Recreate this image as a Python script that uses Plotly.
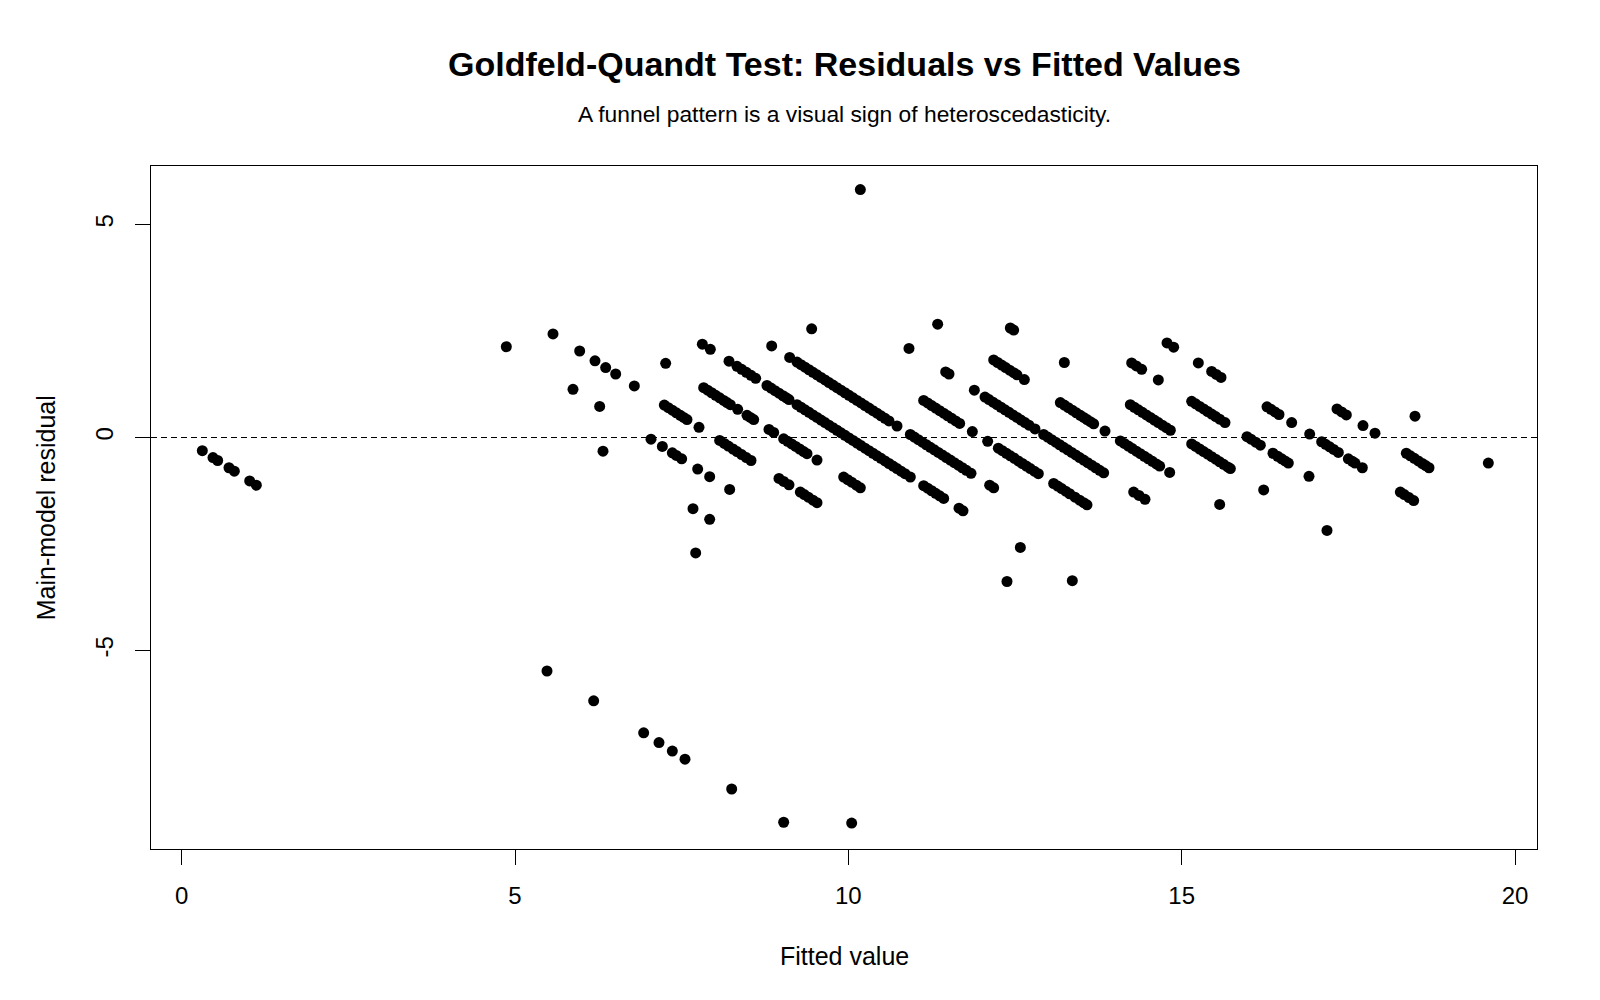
import plotly.graph_objects as go

# ---- data (fitted value, main-model residual), grouped by diagonal band ----
fit_a = [0.31, 0.47, 0.54, 0.71, 0.79, 1.02, 1.12, 5.48, 6.18, 6.93, 7.16, 7.36, 7.55, 8.25, 9.03]
res_a = [-0.31, -0.47, -0.54, -0.71, -0.79, -1.02, -1.12, -5.48, -6.18, -6.93, -7.16, -7.36, -7.55, -8.25, -9.03]

fit_b = [10.05, 7.71, 6.32, 7.67, 7.92]
res_b = [-9.05, -2.71, -0.32, -1.67, -1.92]

fit_c = [4.87, 5.87, 6.27, 7.04, 7.21, 7.36, 7.42, 7.50, 7.74, 7.92, 8.22]
res_c = [2.13, 1.13, 0.73, -0.04, -0.21, -0.36, -0.42, -0.50, -0.74, -0.92, -1.22]

fit_d = [5.57, 5.97, 6.20, 6.36, 6.51, 6.79, 7.24, 7.30, 7.36, 7.42, 7.48, 7.53, 7.58, 7.76,
         8.07, 8.14, 8.20, 8.27, 8.33, 8.40, 8.47, 8.54, 8.96, 9.03, 9.11, 9.28, 9.34, 9.40, 9.47, 9.53]
res_d = [2.43, 2.03, 1.80, 1.64, 1.49, 1.21, 0.76, 0.70, 0.64, 0.58, 0.52, 0.47, 0.42, 0.24,
         -0.07, -0.14, -0.20, -0.27, -0.33, -0.40, -0.47, -0.54, -0.96, -1.03, -1.11, -1.28, -1.34, -1.40, -1.47, -1.53]

fit_e = [7.26, 7.83, 7.89, 7.95, 8.01, 8.07, 8.13, 8.18, 8.23, 8.34, 8.48, 8.53, 8.58, 8.81, 8.88,
         9.03, 9.09, 9.15, 9.21, 9.27, 9.33, 9.38, 9.53, 9.93, 9.99, 10.05, 10.12, 10.18, 12.38]
res_e = [1.74, 1.17, 1.11, 1.05, 0.99, 0.93, 0.87, 0.82, 0.77, 0.66, 0.52, 0.47, 0.42, 0.19, 0.12,
         -0.03, -0.09, -0.15, -0.21, -0.27, -0.33, -0.38, -0.53, -0.93, -0.99, -1.05, -1.12, -1.18, -3.38]

fit_f = [7.81, 7.93, 8.21, 8.33, 8.40, 8.47, 8.54, 8.61, 8.78, 8.84, 8.90, 8.96, 9.02, 9.07, 9.11,
         9.23, 9.29, 9.35, 9.41, 9.47, 9.53, 9.59, 9.65, 9.71, 9.77, 9.83, 9.89, 9.95, 10.01, 10.07,
         10.13, 10.19, 10.25, 10.31, 10.37, 10.43, 10.49, 10.55, 10.61, 10.67, 10.73, 10.79, 10.85, 10.93,
         11.13, 11.19, 11.25, 11.31, 11.37, 11.43, 11.66, 11.72, 12.58, 13.36]
res_f = [2.19, 2.07, 1.79, 1.67, 1.60, 1.53, 1.46, 1.39, 1.22, 1.16, 1.10, 1.04, 0.98, 0.93, 0.89,
         0.77, 0.71, 0.65, 0.59, 0.53, 0.47, 0.41, 0.35, 0.29, 0.23, 0.17, 0.11, 0.05, -0.01, -0.07,
         -0.13, -0.19, -0.25, -0.31, -0.37, -0.43, -0.49, -0.55, -0.61, -0.67, -0.73, -0.79, -0.85, -0.93,
         -1.13, -1.19, -1.25, -1.31, -1.37, -1.43, -1.66, -1.72, -2.58, -3.36]

fit_g = [8.85, 9.12, 9.23, 9.29, 9.35, 9.41, 9.47, 9.53, 9.59, 9.65, 9.71, 9.77, 9.83, 9.89, 9.95,
         10.01, 10.07, 10.13, 10.19, 10.25, 10.31, 10.37, 10.43, 10.49, 10.55, 10.61, 10.73,
         10.93, 10.99, 11.05, 11.11, 11.17, 11.23, 11.29, 11.35, 11.41, 11.47, 11.53, 11.59, 11.65,
         11.71, 11.77, 11.84, 12.12, 12.18]
res_g = [2.15, 1.88, 1.77, 1.71, 1.65, 1.59, 1.53, 1.47, 1.41, 1.35, 1.29, 1.23, 1.17, 1.11, 1.05,
         0.99, 0.93, 0.87, 0.81, 0.75, 0.69, 0.63, 0.57, 0.51, 0.45, 0.39, 0.27,
         0.07, 0.01, -0.05, -0.11, -0.17, -0.23, -0.29, -0.35, -0.41, -0.47, -0.53, -0.59, -0.65,
         -0.71, -0.77, -0.84, -1.12, -1.18]

fit_h = [9.45, 11.13, 11.19, 11.25, 11.31, 11.37, 11.43, 11.49, 11.55, 11.61, 11.67, 11.86, 12.09,
         12.25, 12.31, 12.37, 12.43, 12.49, 12.55, 12.61, 12.67, 12.73, 12.79, 12.85,
         13.08, 13.14, 13.20, 13.26, 13.32, 13.40, 13.47, 13.53, 13.58]
res_h = [2.55, 0.87, 0.81, 0.75, 0.69, 0.63, 0.57, 0.51, 0.45, 0.39, 0.33, 0.14, -0.09,
         -0.25, -0.31, -0.37, -0.43, -0.49, -0.55, -0.61, -0.67, -0.73, -0.79, -0.85,
         -1.08, -1.14, -1.20, -1.26, -1.32, -1.40, -1.47, -1.53, -1.58]

fit_i = [10.91, 11.46, 11.51, 11.89, 12.05, 12.11, 12.17, 12.23, 12.29, 12.35, 12.41, 12.47, 12.53,
         12.59, 12.65, 12.71, 12.80, 12.93, 12.99, 13.05, 13.11, 13.17, 13.23, 13.29, 13.35, 13.41,
         13.47, 13.53, 13.59, 13.65, 13.71, 13.77, 13.83, 14.28, 14.36, 14.45]
res_i = [2.09, 1.54, 1.49, 1.11, 0.95, 0.89, 0.83, 0.77, 0.71, 0.65, 0.59, 0.53, 0.47,
         0.41, 0.35, 0.29, 0.20, 0.07, 0.01, -0.05, -0.11, -0.17, -0.23, -0.29, -0.35, -0.41,
         -0.47, -0.53, -0.59, -0.65, -0.71, -0.77, -0.83, -1.28, -1.36, -1.45]

fit_j = [11.34, 12.18, 12.24, 12.30, 12.36, 12.42, 12.48, 12.53, 12.64, 13.18, 13.24, 13.30, 13.36,
         13.42, 13.48, 13.53, 13.58, 13.63, 13.68, 13.85, 14.08, 14.14, 14.20, 14.26, 14.32, 14.38,
         14.44, 14.50, 14.56, 14.62, 14.67, 14.82, 15.57]
res_j = [2.66, 1.82, 1.76, 1.70, 1.64, 1.58, 1.52, 1.47, 1.36, 0.82, 0.76, 0.70, 0.64,
         0.58, 0.52, 0.47, 0.42, 0.37, 0.32, 0.15, -0.08, -0.14, -0.20, -0.26, -0.32, -0.38,
         -0.44, -0.50, -0.56, -0.62, -0.67, -0.82, -1.57]

fit_k = [12.43, 12.48, 13.24, 14.23, 14.29, 14.35, 14.41, 14.47, 14.53, 14.59, 14.65, 14.71, 14.77,
         14.83, 15.15, 15.21, 15.27, 15.33, 15.39, 15.45, 15.51, 15.57, 15.63, 15.69, 15.73, 16.23, 17.18]
res_k = [2.57, 2.52, 1.76, 0.77, 0.71, 0.65, 0.59, 0.53, 0.47, 0.41, 0.35, 0.29, 0.23,
         0.17, -0.15, -0.21, -0.27, -0.33, -0.39, -0.45, -0.51, -0.57, -0.63, -0.69, -0.73, -1.23, -2.18]

fit_l = [10.18, 14.25, 14.32, 14.40, 14.65, 15.15, 15.21, 15.27, 15.33, 15.39, 15.45, 15.51, 15.57,
         15.65, 15.98, 16.04, 16.11, 16.18, 16.37, 16.44, 16.50, 16.55, 16.60, 16.91]
res_l = [5.82, 1.75, 1.68, 1.60, 1.35, 0.85, 0.79, 0.73, 0.67, 0.61, 0.55, 0.49, 0.43,
         0.35, 0.02, -0.04, -0.11, -0.18, -0.37, -0.44, -0.50, -0.55, -0.60, -0.91]

fit_m = [14.78, 14.88, 15.25, 15.45, 15.52, 15.59, 16.28, 16.34, 16.40, 16.46, 16.65, 16.92, 17.10,
         17.16, 17.22, 17.28, 17.35, 17.50, 17.56, 17.60, 17.71, 18.28, 18.34, 18.41, 18.48]
res_m = [2.22, 2.12, 1.75, 1.55, 1.48, 1.41, 0.72, 0.66, 0.60, 0.54, 0.35, 0.08, -0.10,
         -0.16, -0.22, -0.28, -0.35, -0.50, -0.56, -0.60, -0.71, -1.28, -1.34, -1.41, -1.48]

fit_n = [17.33, 17.40, 17.47, 17.72, 17.90, 18.37, 18.43, 18.49, 18.55, 18.61, 18.66, 18.71, 18.50, 19.60]
res_n = [0.67, 0.60, 0.53, 0.28, 0.10, -0.37, -0.43, -0.49, -0.55, -0.61, -0.66, -0.71, 0.50, -0.60]

x_ticks = [0, 5, 10, 15, 20]
y_ticks = [-5, 0, 5]

title_text = "Goldfeld-Quandt Test: Residuals vs Fitted Values"
subtitle_text = "A funnel pattern is a visual sign of heteroscedasticity."
x_label = "Fitted value"
y_label = "Main-model residual"

groups = [(fit_a, res_a), (fit_b, res_b), (fit_c, res_c), (fit_d, res_d), (fit_e, res_e),
          (fit_f, res_f), (fit_g, res_g), (fit_h, res_h), (fit_i, res_i), (fit_j, res_j),
          (fit_k, res_k), (fit_l, res_l), (fit_m, res_m), (fit_n, res_n)]
fitted, residual = [], []
for fx, ry in groups:
    n = min(len(fx), len(ry))
    fitted += fx[:n]
    residual += ry[:n]

FONT = "Liberation Sans, Arial, sans-serif"

fig = go.Figure()
fig.add_trace(go.Scatter(
    x=fitted, y=residual, mode="markers",
    marker=dict(color="black", size=11, line=dict(width=0)),
    hoverinfo="x+y", showlegend=False,
))

fig.add_shape(type="line", xref="paper", yref="y", x0=0, x1=1, y0=0, y1=0,
              line=dict(color="black", width=1, dash="6px,4px"), layer="below")

axis_common = dict(
    showline=True, mirror=True, linecolor="black", linewidth=1,
    ticks="outside", ticklen=15, tickwidth=1, tickcolor="black",
    showgrid=False, zeroline=False,
    tickfont=dict(family=FONT, size=24, color="black"),
)

fig.update_layout(
    width=1600, height=1000,
    margin=dict(l=151, r=63, t=166, b=151),
    paper_bgcolor="white", plot_bgcolor="white",
    xaxis=dict(range=[-0.46, 20.33], tickmode="array", tickvals=x_ticks,
               ticktext=[str(v) for v in x_ticks], ticklabelstandoff=10, **axis_common),
    yaxis=dict(range=[-9.658, 6.372], tickmode="array", tickvals=y_ticks,
               ticktext=[str(v) for v in y_ticks], tickangle=-90, ticklabelstandoff=12,
               **axis_common),
    annotations=[
        dict(text="<b>" + title_text + "</b>", xref="paper", yref="paper", x=0.5, y=1.150,
             xanchor="center", yanchor="middle", showarrow=False,
             font=dict(family=FONT, size=34, color="black")),
        dict(text=subtitle_text, xref="paper", yref="paper", x=0.5, y=1.0755,
             xanchor="center", yanchor="middle", showarrow=False,
             font=dict(family=FONT, size=22.8, color="black")),
        dict(text=x_label, xref="paper", yref="paper", x=0.5, y=-0.156,
             xanchor="center", yanchor="middle", showarrow=False,
             font=dict(family=FONT, size=25, color="black")),
        dict(text=y_label, xref="paper", yref="paper", x=-0.0759, y=0.5, textangle=-90,
             xanchor="center", yanchor="middle", showarrow=False,
             font=dict(family=FONT, size=25, color="black")),
    ],
)

fig.write_html("out.html")
